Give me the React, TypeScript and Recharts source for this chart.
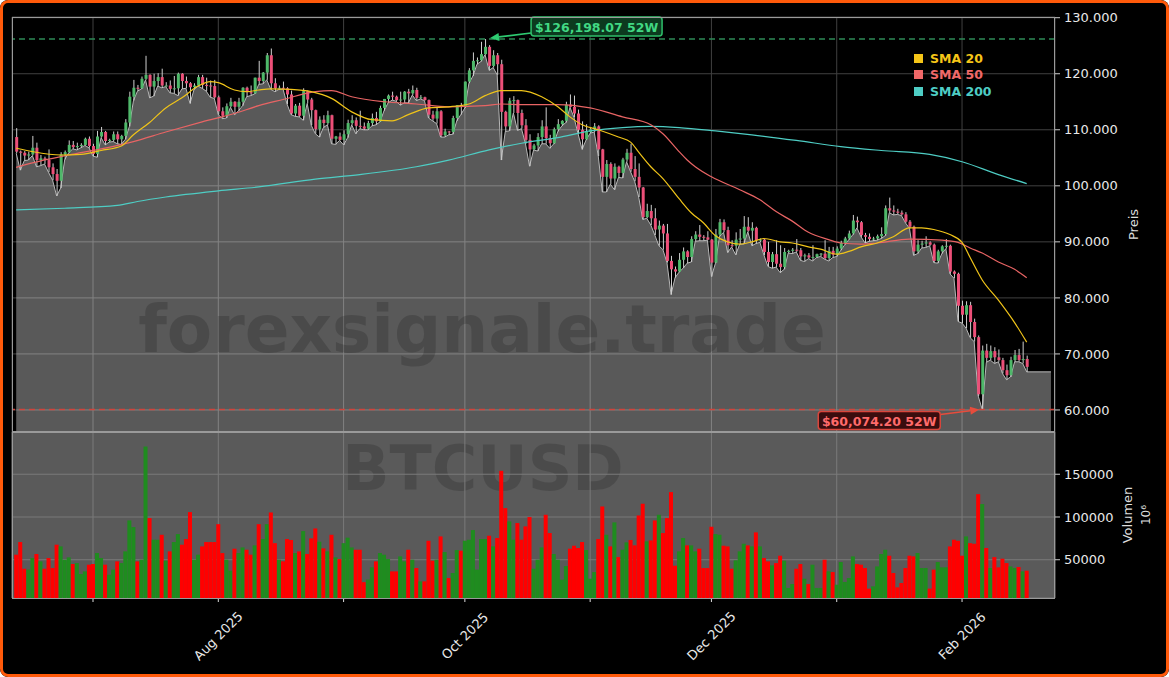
import { ComposedChart, Bar, Line, Area, XAxis, YAxis, CartesianGrid, ReferenceLine, ReferenceDot } from "recharts";

// daily candles, day 0 = 12 Jun 2025 ... day 250 = 17 Feb 2026, values in thousand USD: [open, high, low, close]
const ohlc: number[][] = [
  [108.7, 110.3, 105.8, 106.1], [106.1, 106.3, 102.8, 105.9], [105.9, 106.2, 104.5, 105.4], [105.4, 106.1, 104.6, 105.6], [105.6, 108.9, 105.4, 106.8],
  [106.8, 107.7, 103.4, 104.6], [104.6, 105.5, 103.6, 104.9], [104.9, 105.2, 103.9, 104.6], [104.6, 106.5, 102.4, 103.3], [103.3, 104.0, 101.0, 102.1],
  [102.1, 103.0, 98.2, 100.9], [100.9, 106.0, 99.6, 105.6], [105.6, 106.3, 104.7, 106.0], [106.0, 108.1, 105.9, 107.3], [107.3, 108.0, 106.6, 106.9],
  [106.9, 107.7, 106.4, 107.1], [107.1, 107.6, 106.8, 107.3], [107.3, 108.6, 107.2, 108.4], [108.4, 108.8, 106.8, 107.1], [107.1, 107.5, 105.3, 105.7],
  [105.7, 109.8, 105.1, 108.8], [108.8, 110.5, 108.6, 109.6], [109.6, 109.8, 107.3, 108.0], [108.0, 108.4, 107.8, 108.2], [108.2, 109.7, 107.9, 109.2],
  [109.2, 109.7, 107.5, 108.3], [108.3, 109.1, 107.4, 108.9], [108.9, 111.9, 108.3, 111.3], [111.3, 116.8, 110.6, 115.9], [115.9, 118.9, 115.2, 117.5],
  [117.5, 118.0, 116.9, 117.4], [117.4, 119.5, 117.3, 119.1], [119.1, 123.2, 118.9, 119.8], [119.8, 119.9, 115.7, 117.7], [117.7, 120.0, 116.0, 118.7],
  [118.7, 120.1, 117.8, 119.4], [119.4, 120.9, 117.5, 117.9], [117.9, 118.5, 117.7, 117.9], [117.9, 118.8, 116.6, 117.3], [117.3, 119.6, 116.5, 117.4],
  [117.4, 120.2, 116.1, 120.0], [120.0, 120.1, 117.3, 118.7], [118.7, 119.5, 117.4, 118.3], [118.3, 118.5, 114.7, 117.6], [117.6, 118.3, 117.2, 117.9],
  [117.9, 119.8, 117.8, 119.4], [119.4, 119.8, 117.4, 118.0], [118.0, 119.3, 116.9, 117.9], [117.9, 118.8, 115.8, 117.8], [117.8, 118.9, 115.6, 115.8],
  [115.8, 116.1, 112.7, 113.3], [113.3, 114.0, 112.0, 112.5], [112.5, 114.7, 112.1, 114.2], [114.2, 115.7, 114.0, 115.0], [115.0, 115.1, 112.7, 114.1],
  [114.1, 115.7, 113.4, 115.0], [115.0, 117.6, 114.3, 117.5], [117.5, 117.7, 115.9, 116.7], [116.7, 117.9, 116.1, 116.5], [116.5, 119.3, 116.4, 119.3],
  [119.3, 122.3, 118.1, 118.7], [118.7, 120.3, 118.2, 120.2], [120.2, 123.7, 118.9, 123.3], [123.3, 124.5, 117.2, 118.3], [118.3, 119.2, 116.8, 117.4],
  [117.4, 117.9, 117.2, 117.5], [117.5, 118.6, 117.3, 117.4], [117.4, 117.6, 114.6, 116.3], [116.3, 117.0, 112.7, 112.9], [112.9, 114.6, 112.4, 114.3],
  [114.3, 114.8, 112.3, 112.5], [112.5, 117.4, 111.7, 116.9], [116.9, 117.0, 114.7, 115.4], [115.4, 115.7, 110.8, 113.5], [113.5, 113.6, 109.3, 110.1],
  [110.1, 112.4, 108.7, 111.8], [111.8, 112.6, 110.4, 111.2], [111.2, 113.4, 110.9, 112.6], [112.6, 112.7, 107.5, 108.4], [108.4, 108.9, 107.4, 108.8],
  [108.8, 109.5, 108.1, 108.2], [108.2, 109.9, 107.3, 109.2], [109.2, 111.8, 108.6, 111.2], [111.2, 112.6, 110.9, 111.7], [111.7, 112.2, 109.3, 110.7],
  [110.7, 113.4, 110.2, 110.6], [110.6, 111.3, 110.0, 110.2], [110.2, 111.6, 110.0, 111.2], [111.2, 112.9, 110.7, 112.1], [112.1, 113.2, 110.9, 111.5],
  [111.5, 114.3, 111.4, 113.9], [113.9, 115.5, 113.4, 115.5], [115.5, 116.3, 114.8, 116.1], [116.1, 116.8, 115.3, 115.9], [115.9, 116.1, 115.1, 115.3],
  [115.3, 116.8, 114.4, 115.4], [115.4, 116.9, 114.8, 116.8], [116.8, 117.3, 114.8, 116.5], [116.5, 117.9, 116.2, 117.1], [117.1, 117.5, 115.2, 115.7],
  [115.7, 116.2, 115.5, 115.8], [115.8, 115.9, 115.2, 115.3], [115.3, 115.4, 112.1, 112.7], [112.7, 113.4, 111.6, 112.0], [112.0, 113.9, 111.1, 113.3],
  [113.3, 113.5, 108.7, 109.0], [109.0, 110.2, 108.7, 109.7], [109.7, 109.8, 109.1, 109.6], [109.6, 112.5, 109.2, 112.1], [112.1, 114.4, 111.6, 114.4],
  [114.4, 114.8, 112.7, 114.1], [114.1, 118.6, 113.9, 118.6], [118.6, 121.0, 118.3, 120.6], [120.6, 123.8, 119.6, 122.3], [122.3, 122.9, 121.7, 122.4],
  [122.4, 125.7, 122.2, 123.5], [123.5, 126.198, 123.4, 124.8], [124.8, 125.1, 120.6, 121.4], [121.4, 124.2, 121.1, 123.3], [123.3, 123.7, 119.8, 121.7],
  [121.7, 122.5, 104.6, 113.2], [113.2, 113.4, 109.7, 110.6], [110.6, 115.7, 109.8, 115.2], [115.2, 116.0, 113.0, 115.3], [115.3, 115.4, 109.9, 113.0],
  [113.0, 113.6, 110.2, 110.8], [110.8, 111.9, 107.5, 108.2], [108.2, 109.2, 103.5, 106.5], [106.5, 107.5, 106.4, 107.2], [107.2, 109.4, 106.2, 108.7],
  [108.7, 111.7, 107.5, 110.6], [110.6, 114.0, 107.5, 108.5], [108.5, 109.1, 106.7, 107.6], [107.6, 110.4, 107.5, 110.1], [110.1, 111.9, 109.7, 111.0],
  [111.0, 111.7, 110.7, 111.6], [111.6, 115.0, 111.3, 114.5], [114.5, 116.3, 114.0, 114.1], [114.1, 116.1, 112.2, 112.9], [112.9, 113.6, 109.3, 110.0],
  [110.0, 111.5, 106.5, 108.3], [108.3, 111.0, 108.2, 109.6], [109.6, 110.5, 109.4, 110.1], [110.1, 111.2, 109.6, 110.6], [110.6, 110.8, 105.3, 106.5],
  [106.5, 106.6, 98.9, 101.6], [101.6, 104.6, 98.9, 103.9], [103.9, 104.2, 100.3, 101.3], [101.3, 104.0, 99.3, 103.4], [103.4, 103.6, 101.5, 102.3],
  [102.3, 105.0, 101.4, 104.7], [104.7, 106.6, 104.3, 105.9], [105.9, 107.5, 102.5, 103.0], [103.0, 105.3, 100.8, 101.6], [101.6, 104.0, 98.0, 99.7],
  [99.7, 99.8, 94.0, 94.4], [94.4, 96.8, 94.2, 95.5], [95.5, 96.6, 93.0, 94.2], [94.2, 96.0, 91.2, 92.2], [92.2, 93.8, 89.3, 92.9],
  [92.9, 93.2, 88.6, 91.5], [91.5, 93.2, 86.3, 86.6], [86.6, 87.5, 80.6, 85.1], [85.1, 85.6, 83.6, 84.7], [84.7, 88.0, 84.6, 86.8],
  [86.8, 89.0, 85.3, 88.3], [88.3, 88.5, 86.2, 87.3], [87.3, 91.0, 86.4, 90.5], [90.5, 91.9, 90.1, 91.3], [91.3, 93.0, 90.2, 90.9],
  [90.9, 91.2, 90.2, 90.8], [90.8, 91.9, 90.3, 90.4], [90.4, 90.5, 83.8, 86.3], [86.3, 92.3, 86.2, 91.3], [91.3, 94.1, 91.0, 93.5],
  [93.5, 94.0, 91.7, 92.1], [92.1, 92.7, 88.1, 89.4], [89.4, 90.3, 89.1, 89.3], [89.3, 91.7, 87.7, 90.4], [90.4, 92.3, 89.6, 90.6],
  [90.6, 94.6, 89.6, 92.7], [92.7, 94.4, 91.8, 92.0], [92.0, 93.5, 89.3, 92.5], [92.5, 92.7, 89.7, 90.3], [90.3, 90.6, 89.9, 90.4],
  [90.4, 90.5, 87.6, 88.2], [88.2, 90.0, 85.6, 86.4], [86.4, 88.2, 85.3, 87.8], [87.8, 90.3, 85.5, 86.1], [86.1, 89.4, 84.5, 85.5],
  [85.5, 88.9, 85.1, 88.2], [88.2, 88.6, 88.0, 88.4], [88.4, 88.9, 87.9, 88.6], [88.6, 90.5, 88.2, 88.5], [88.5, 88.9, 86.7, 87.4],
  [87.4, 87.9, 86.5, 87.6], [87.6, 88.0, 87.0, 87.2], [87.2, 89.4, 86.6, 87.3], [87.3, 87.9, 87.2, 87.8], [87.8, 88.0, 87.4, 87.9],
  [87.9, 90.3, 86.9, 87.1], [87.1, 89.1, 86.6, 88.4], [88.4, 89.1, 87.2, 87.7], [87.7, 89.2, 87.4, 88.8], [88.8, 90.2, 88.5, 89.8],
  [89.8, 90.9, 89.5, 90.6], [90.6, 92.0, 90.4, 91.5], [91.5, 94.8, 91.3, 93.8], [93.8, 94.5, 92.5, 93.5], [93.5, 93.7, 90.9, 91.2],
  [91.2, 91.6, 89.8, 90.9], [90.9, 91.5, 90.1, 90.5], [90.5, 90.9, 90.2, 90.6], [90.6, 91.3, 90.3, 91.0], [91.0, 92.6, 90.6, 91.4],
  [91.4, 96.5, 91.1, 96.0], [96.0, 97.9, 95.2, 95.6], [95.6, 96.5, 94.8, 95.4], [95.4, 95.9, 94.9, 95.2], [95.2, 95.6, 94.7, 94.9],
  [94.9, 95.3, 93.4, 93.6], [93.6, 93.9, 92.4, 92.7], [92.7, 92.9, 87.6, 88.3], [88.3, 90.3, 87.9, 89.5], [89.5, 90.2, 88.9, 89.7],
  [89.7, 91.0, 89.0, 89.9], [89.9, 90.1, 89.3, 89.5], [89.5, 89.7, 86.3, 86.6], [86.6, 88.6, 86.2, 88.3], [88.3, 89.4, 87.9, 89.2],
  [89.2, 90.5, 88.8, 89.3], [89.3, 89.5, 84.3, 84.7], [84.7, 84.9, 83.5, 84.3], [84.3, 84.5, 75.8, 78.6], [78.6, 79.5, 75.5, 77.0],
  [77.0, 79.4, 74.6, 78.7], [78.7, 79.3, 72.9, 75.7], [75.7, 76.3, 72.2, 73.0], [73.0, 73.3, 62.5, 62.8], [62.8, 71.5, 60.074, 70.6],
  [70.6, 71.8, 68.5, 69.3], [69.3, 71.5, 68.9, 70.5], [70.5, 71.2, 68.3, 69.4], [69.4, 70.8, 68.6, 68.9], [68.9, 69.3, 66.5, 67.1],
  [67.1, 68.1, 65.4, 66.2], [66.2, 69.5, 65.9, 68.9], [68.9, 70.7, 68.6, 69.8], [69.8, 70.9, 68.6, 68.9], [68.9, 72.2, 68.3, 69.1],
  [69.1, 69.7, 66.8, 67.7],
];

// daily volume in thousands of the axis unit (axis scaled by 10^6)
const volume: number[] = [
  55.9, 70.7, 39.5, 38.4, 52.0, 56.7, 48.1, 39.5, 52.0, 40.3,
  67.6, 65.6, 50.0, 52.8, 45.0, 46.1, 33.3, 36.4, 44.2, 45.0,
  57.8, 52.0, 44.2, 32.5, 38.4, 48.1, 46.1, 59.8, 96.0, 88.2,
  48.1, 50.0, 182.4, 98.7, 73.4, 73.4, 79.2, 48.9, 59.8, 70.7,
  80.0, 67.6, 74.2, 105.7, 50.0, 55.9, 65.6, 70.7, 70.7, 70.7,
  91.6, 57.8, 50.0, 37.2, 62.9, 57.8, 64.4, 61.7, 55.9, 66.8,
  91.6, 74.2, 91.6, 105.3, 69.4, 50.0, 48.1, 74.2, 73.1, 57.8,
  59.8, 83.5, 56.7, 75.0, 86.6, 71.1, 63.3, 59.8, 79.2, 52.8,
  50.8, 69.4, 75.8, 64.4, 61.7, 61.7, 23.8, 26.8, 41.1, 48.1,
  57.8, 55.9, 50.8, 36.4, 36.4, 53.9, 48.1, 61.7, 50.0, 40.3,
  24.7, 24.7, 72.2, 48.9, 50.0, 77.3, 59.0, 28.6, 34.5, 61.3,
  60.6, 72.2, 73.4, 84.7, 38.4, 74.2, 74.2, 78.1, 65.6, 75.4,
  154.0, 110.4, 94.8, 73.4, 92.9, 73.4, 89.0, 99.9, 39.5, 50.0,
  64.4, 102.6, 81.2, 56.7, 50.0, 26.7, 42.6, 62.9, 66.4, 63.7,
  70.7, 61.3, 27.8, 35.6, 74.2, 112.3, 79.2, 65.6, 93.7, 53.1,
  61.7, 70.3, 73.1, 66.8, 101.8, 115.5, 71.5, 72.6, 96.0, 102.6,
  81.2, 98.7, 129.1, 43.0, 59.8, 75.4, 66.8, 66.8, 59.8, 62.9,
  40.3, 40.3, 88.6, 80.0, 79.2, 66.4, 65.6, 39.5, 49.3, 59.8,
  68.7, 66.8, 65.6, 82.0, 65.6, 52.0, 48.1, 43.4, 46.1, 54.7,
  48.9, 17.0, 21.6, 39.5, 45.0, 27.8, 21.6, 44.2, 17.0, 17.0,
  50.0, 36.4, 35.6, 20.8, 47.3, 24.0, 28.6, 53.9, 45.0, 44.2,
  40.3, 16.2, 18.9, 42.2, 56.7, 61.7, 54.7, 34.5, 17.7, 22.8,
  40.3, 54.7, 53.9, 57.8, 40.3, 40.3, 16.2, 38.4, 47.3, 41.1,
  41.1, 65.6, 73.4, 72.2, 54.7, 77.3, 69.4, 68.7, 126.7, 115.1,
  63.7, 40.3, 53.1, 41.1, 51.2, 46.1, 42.2, 40.3, 41.5, 36.4,
  37.2,
];

// moving averages: [day, thousand USD]
const sma20: number[][] = [
  [0, 106.7], [4, 106.1], [11, 105.5], [16, 105.6], [21, 106.3], [26, 107.1], [29, 109.1], [33, 111.3], [37, 113.9], [41, 115.7],
  [45, 117.8], [48, 118.6], [50, 118.4], [54, 117.1], [57, 116.8], [60, 117.1], [63, 117.3], [68, 117.2], [73, 116.8], [78, 115.6],
  [83, 113.2], [88, 111.8], [93, 111.6], [97, 112.7], [102, 113.9], [107, 114.1], [112, 114.6], [116, 116.1], [120, 117.0], [125, 117.0],
  [130, 115.9], [134, 114.1], [137, 112.3], [140, 110.9], [144, 110.0], [149, 108.7], [152, 107.8], [154, 106.0], [157, 103.4], [160, 101.3],
  [164, 97.7], [167, 95.2], [170, 93.4], [173, 91.1], [176, 90.0], [179, 89.6], [182, 90.0], [185, 90.6], [189, 90.0], [192, 89.8],
  [196, 89.1], [199, 88.7], [203, 87.8], [206, 88.3], [209, 89.1], [213, 89.8], [217, 90.9], [221, 92.5], [224, 92.5], [227, 92.2],
  [231, 91.3], [234, 89.9], [236, 87.2], [239, 83.2], [243, 79.6], [247, 75.6], [250, 72.1],
];
const sma50: number[][] = [
  [0, 103.3], [4, 104.1], [13, 105.5], [21, 106.6], [29, 107.9], [37, 109.6], [46, 111.4], [54, 112.9], [60, 114.3], [66, 115.4],
  [74, 116.8], [78, 117.0], [83, 115.9], [91, 115.0], [99, 114.6], [107, 114.1], [116, 114.3], [120, 114.6], [125, 114.5], [134, 114.5],
  [142, 113.9], [150, 112.3], [157, 110.9], [160, 109.3], [164, 106.1], [166, 104.6], [168, 103.4], [172, 101.6], [179, 99.3], [184, 97.5],
  [188, 95.4], [192, 93.7], [196, 91.7], [201, 90.4], [204, 89.8], [209, 89.6], [213, 89.8], [221, 90.5], [229, 90.3], [233, 89.9],
  [236, 88.9], [239, 88.0], [243, 86.4], [247, 85.1], [250, 83.6],
];
const sma200: number[][] = [
  [0, 95.7], [12, 96.0], [25, 96.5], [30, 97.2], [37, 98.0], [50, 99.1], [60, 99.8], [74, 101.2], [85, 102.0], [99, 103.4],
  [107, 104.6], [117, 106.4], [125, 107.6], [134, 108.6], [142, 109.8], [150, 110.4], [157, 110.6], [164, 110.4], [173, 109.8], [182, 109.1],
  [193, 108.1], [204, 107.0], [214, 106.3], [226, 105.6], [234, 104.3], [243, 102.0], [250, 100.4],
];

const monthTicks = [19, 50, 81, 111, 142, 172, 203, 234];
const monthLabels = ["", "Aug 2025", "", "Oct 2025", "", "Dec 2025", "", "Feb 2026"];
const priceTicks = [60000, 70000, 80000, 90000, 100000, 110000, 120000, 130000];
const volumeTicks = [50000, 100000, 150000];
const high52 = { day: 116, price: 126198.07 };
const low52 = { day: 239, price: 60074.2 };
const fillEndDay = 256;

const UP = "#4fb86a";
const DOWN = "#ec4f78";
const WICK = "#cfcfcf";
const VOL_UP = "#1f8c1f";
const VOL_DOWN = "#ff0000";
const FONT = "DejaVu Sans, sans-serif";
const X_DOMAIN: [number, number] = [-1.04, 257];

const rows: any[] = ohlc.map(([o, h, l, c], i) => ({
  day: i, open: o * 1000, high: h * 1000, low: l * 1000, close: c * 1000, vol: volume[i] * 1000, base: l * 1000,
}));
rows.push({ day: fillEndDay, base: ohlc[ohlc.length - 1][2] * 1000 });
const smaSets: [string, number[][]][] = [["sma20", sma20], ["sma50", sma50], ["sma200", sma200]];
for (const [key, pts] of smaSets) {
  for (const [d, v] of pts) rows[d][key] = v * 1000;
}

function Candle(props: any) {
  const { x, y, width, height, payload } = props;
  if (!payload || payload.open == null || !isFinite(y)) return null;
  const { open, close, high, low } = payload;
  const k = high === low ? 0 : height / (high - low);
  const yo = y + (high - open) * k;
  const yc = y + (high - close) * k;
  const cx = x + width / 2;
  const top = Math.min(yo, yc);
  const h = Math.max(Math.abs(yc - yo), 1);
  return (
    <g>
      <line x1={cx} x2={cx} y1={y} y2={y + height} stroke={WICK} strokeWidth={1} />
      <rect x={x} y={top} width={width} height={h} fill={close >= open ? UP : DOWN} />
    </g>
  );
}

function VolumeBar(props: any) {
  const { x, y, width, height, payload } = props;
  if (!payload || payload.vol == null || !(height > 0)) return null;
  return <rect x={x} y={y} width={width} height={height} fill={payload.close >= payload.open ? VOL_UP : VOL_DOWN} />;
}

function arrow(x1: number, y1: number, x2: number, y2: number, color: string) {
  const a = Math.atan2(y2 - y1, x2 - x1);
  const L = 9, W = 4;
  const bx = x2 - L * Math.cos(a), by = y2 - L * Math.sin(a);
  const p1 = `${bx + W * Math.sin(a)},${by - W * Math.cos(a)}`;
  const p2 = `${bx - W * Math.sin(a)},${by + W * Math.cos(a)}`;
  return (
    <g>
      <line x1={x1} y1={y1} x2={bx} y2={by} stroke={color} strokeWidth={1.6} />
      <polygon points={`${x2},${y2} ${p1} ${p2}`} fill={color} />
    </g>
  );
}

const money = (v: number) => "$" + v.toLocaleString("en-US", { minimumFractionDigits: 2, maximumFractionDigits: 2 }) + " 52W";

function HighTag(props: any) {
  const vb = props.viewBox || {};
  const cx = vb.x + (vb.width || 0) / 2;
  const cy = vb.y + (vb.height || 0) / 2;
  const bx = cx + 46, by = cy - 22, bw = 131, bh = 19;
  return (
    <g>
      {arrow(bx, cy - 6, cx + 5, cy - 1, "#2ecc71")}
      <rect x={bx} y={by} width={bw} height={bh} rx={3} fill="#0c3a1f" stroke="#2fbf6a" strokeWidth={1.5} />
      <text x={bx + bw / 2} y={by + bh / 2 + 0.5} textAnchor="middle" dominantBaseline="central" fill="#41d883" fontWeight="bold" fontSize={12.5} fontFamily={FONT}>{money(high52.price)}</text>
    </g>
  );
}

function LowTag(props: any) {
  const vb = props.viewBox || {};
  const cx = vb.x + (vb.width || 0) / 2;
  const cy = vb.y + (vb.height || 0) / 2;
  const bx = cx - 164, by = cy + 2, bw = 122, bh = 18;
  return (
    <g>
      {arrow(bx + bw, cy + 5, cx - 3, cy, "#e74c3c")}
      <rect x={bx} y={by} width={bw} height={bh} rx={3} fill="#3a0d0e" stroke="#d9463c" strokeWidth={1.5} />
      <text x={bx + bw / 2} y={by + bh / 2 + 0.5} textAnchor="middle" dominantBaseline="central" fill="#ff6b6b" fontWeight="bold" fontSize={12.5} fontFamily={FONT}>{money(low52.price)}</text>
    </g>
  );
}

function DateTick(props: any) {
  const { x, y, payload } = props;
  const idx = monthTicks.indexOf(payload.value);
  const label = idx >= 0 ? monthLabels[idx] : "";
  if (!label) return null;
  const cy = y + 32;
  return (
    <text x={x} y={cy} transform={`rotate(-45, ${x}, ${cy})`} textAnchor="middle" dominantBaseline="central" fill="#e8e8e8" fontSize={13} fontFamily={FONT}>{label}</text>
  );
}

function AxisTitle({ viewBox, lines, dx }: any) {
  const cx = viewBox.x + dx;
  const cy = viewBox.y + viewBox.height / 2;
  return (
    <g transform={`rotate(-90, ${cx}, ${cy})`}>
      {lines.map((t: string, i: number) => (
        <text key={i} x={cx} y={cy + i * 19} textAnchor="middle" dominantBaseline="central" fill="#dddddd" fontSize={i === 0 ? 13 : 12} fontFamily={FONT}>{t}</text>
      ))}
    </g>
  );
}

const legendItems = [
  { label: "SMA 20", color: "#f5c518" },
  { label: "SMA 50", color: "#f06868" },
  { label: "SMA 200", color: "#4ecdc4" },
];

export default function App() {
  return (
    <div style={{ position: "absolute", left: 0, top: 0, width: 1169, height: 677, background: "#000", borderRadius: 8, overflow: "hidden", fontFamily: FONT }}>
      {/* price panel */}
      <div style={{ position: "absolute", left: 0, top: 0 }}>
        <ComposedChart width={1169} height={432} data={rows} margin={{ top: 17, right: 0, bottom: 0, left: 12 }}>
          <CartesianGrid stroke="#404040" strokeWidth={1} />
          <XAxis dataKey="day" type="number" domain={X_DOMAIN} allowDataOverflow ticks={monthTicks} interval={0} hide />
          <YAxis type="number" orientation="right" width={114} domain={[56070, 130125]} allowDataOverflow ticks={priceTicks} interval={0}
            tickFormatter={(v: number) => `${v / 1000}.000`} tick={{ fill: "#e8e8e8", fontSize: 13, fontFamily: FONT }}
            tickLine={{ stroke: "#cccccc" }} tickSize={5} tickMargin={4} axisLine={false}
            label={(p: any) => <AxisTitle viewBox={p.viewBox} lines={["Preis"]} dx={78} />} />
          <Area dataKey="base" type="linear" stroke="#b8b8b8" strokeWidth={1} fill="#ffffff" fillOpacity={0.35} isAnimationActive={false} dot={false} activeDot={false} />
          <Bar dataKey={(d: any) => (d.open == null ? null : [d.low, d.high])} barSize={3} shape={(p: any) => <Candle {...p} />} isAnimationActive={false} />
          <Line dataKey="sma200" type="monotone" connectNulls stroke="#4ecdc4" strokeWidth={1.2} dot={false} activeDot={false} isAnimationActive={false} />
          <Line dataKey="sma50" type="monotone" connectNulls stroke="#e86464" strokeWidth={1.2} dot={false} activeDot={false} isAnimationActive={false} />
          <Line dataKey="sma20" type="monotone" connectNulls stroke="#f0c419" strokeWidth={1.2} dot={false} activeDot={false} isAnimationActive={false} />
          <ReferenceLine y={high52.price} stroke="#2e8b57" strokeWidth={1.6} strokeDasharray="6 4" />
          <ReferenceLine y={low52.price} stroke="#d0453c" strokeWidth={1.6} strokeDasharray="6 4" />
          <ReferenceDot x={high52.day} y={high52.price} r={1} fill="none" stroke="none" label={(p: any) => <HighTag {...p} />} />
          <ReferenceDot x={low52.day} y={low52.price} r={1} fill="none" stroke="none" label={(p: any) => <LowTag {...p} />} />
        </ComposedChart>
      </div>

      {/* volume panel background and watermark */}
      <div style={{ position: "absolute", left: 12, top: 432, width: 1043, height: 166, background: "#5a5a5a" }} />
      <div style={{ position: "absolute", left: 0, top: 0, width: 1169, height: 677, pointerEvents: "none" }}>
        <svg width={1169} height={677}>
          <text x={483} y={490} textAnchor="middle" fill="rgba(0,0,0,0.16)" fontSize={62} fontWeight="bold" fontFamily={FONT}>BTCUSD</text>
        </svg>
      </div>

      {/* volume panel */}
      <div style={{ position: "absolute", left: 0, top: 432 }}>
        <ComposedChart width={1169} height={245} data={rows} margin={{ top: 0, right: 0, bottom: 0, left: 12 }}>
          <CartesianGrid stroke="#7a7a7a" strokeWidth={1} />
          <XAxis dataKey="day" type="number" domain={X_DOMAIN} allowDataOverflow ticks={monthTicks} interval={0} height={79}
            tick={(p: any) => <DateTick {...p} />} tickLine={{ stroke: "#dddddd" }} tickSize={4} axisLine={false} />
          <YAxis type="number" orientation="right" width={114} domain={[5260, 199400]} allowDataOverflow ticks={volumeTicks} interval={0}
            tick={{ fill: "#e8e8e8", fontSize: 13, fontFamily: FONT }} tickLine={{ stroke: "#cccccc" }} tickSize={5} tickMargin={4} axisLine={false}
            label={(p: any) => <AxisTitle viewBox={p.viewBox} lines={["Volumen", "10⁶"]} dx={72} />} />
          <Bar dataKey="vol" barSize={4} shape={(p: any) => <VolumeBar {...p} />} isAnimationActive={false} />
        </ComposedChart>
      </div>

      {/* watermark over price area */}
      <div style={{ position: "absolute", left: 0, top: 0, pointerEvents: "none" }}>
        <svg width={1169} height={432}>
          <text x={482} y={352} textAnchor="middle" fill="rgba(0,0,0,0.17)" fontSize={66} fontWeight="bold" fontFamily={FONT}>forexsignale.trade</text>
        </svg>
      </div>

      {/* spines */}
      <div style={{ position: "absolute", left: 12, top: 17, width: 1043, height: 415, border: "1px solid #9a9a9a", boxSizing: "border-box", pointerEvents: "none" }} />
      <div style={{ position: "absolute", left: 12, top: 432, width: 1043, height: 167, border: "1px solid #9a9a9a", boxSizing: "border-box", pointerEvents: "none" }} />

      {/* legend */}
      <div style={{ position: "absolute", left: 914, top: 50, pointerEvents: "none" }}>
        {legendItems.map((it) => (
          <div key={it.label} style={{ display: "flex", alignItems: "center", height: 16.5 }}>
            <div style={{ width: 9, height: 9, background: it.color, marginRight: 7 }} />
            <span style={{ color: it.color, fontWeight: "bold", fontSize: 12.5, fontFamily: FONT }}>{it.label}</span>
          </div>
        ))}
      </div>

      {/* frame */}
      <div style={{ position: "absolute", left: 0, top: 0, width: 1169, height: 677, border: "3px solid #ff5a0a", borderRadius: 8, boxSizing: "border-box", pointerEvents: "none" }} />
    </div>
  );
}
